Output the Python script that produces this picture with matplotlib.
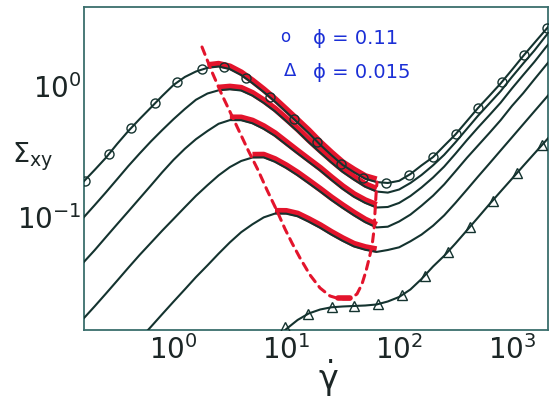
import numpy as np
import matplotlib
matplotlib.use("Agg")
import matplotlib.pyplot as plt
from matplotlib.ticker import NullLocator, FixedLocator
import matplotlib.transforms as mtransforms

# ---------------- data ----------------
# common shear-rate grid
gdot = np.array([0.158, 0.200, 0.251, 0.316, 0.398, 0.501, 0.631, 0.794,
                 1.00, 1.26, 1.58, 2.00, 2.51, 3.16, 3.98, 5.01, 6.31, 7.94,
                 10.0, 12.6, 15.8, 20.0, 25.1, 31.6, 39.8, 50.1, 63.1, 79.4,
                 100, 126, 158, 200, 251, 316, 398, 501, 631, 794,
                 1000, 1259, 1585, 1995, 2512])

sig1 = np.array([0.186, 0.230, 0.284, 0.362, 0.455, 0.561, 0.686, 0.840, 1.018,
                 1.171, 1.289, 1.375, 1.407, 1.344, 1.212, 1.052, 0.900, 0.761,
                 0.634, 0.527, 0.439, 0.357, 0.298, 0.251, 0.221, 0.197, 0.186,
                 0.183, 0.190, 0.214, 0.249, 0.288, 0.351, 0.428, 0.540, 0.681,
                 0.842, 1.045, 1.326, 1.691, 2.131, 2.680, 3.378])
sig2 = np.array([0.0991, 0.1241, 0.1549, 0.1952, 0.2464, 0.3067, 0.3792, 0.4621,
                 0.5593, 0.6685, 0.7855, 0.8769, 0.9275, 0.9438, 0.9242, 0.8452,
                 0.7438, 0.6423, 0.5399, 0.4516, 0.3739, 0.3111, 0.2619, 0.2222,
                 0.1939, 0.1712, 0.1576, 0.1546, 0.1632, 0.1830, 0.2105, 0.2494,
                 0.2997, 0.3731, 0.4710, 0.5942, 0.7362, 0.9130, 1.171, 1.483,
                 1.865, 2.400, 3.014])
sig3 = np.array([0.0452, 0.0564, 0.0707, 0.0888, 0.1113, 0.1397, 0.1754, 0.2207,
                 0.2742, 0.3330, 0.3938, 0.4547, 0.5160, 0.5503, 0.5494, 0.5205,
                 0.4719, 0.4174, 0.3577, 0.3067, 0.2647, 0.2273, 0.1932, 0.1650,
                 0.1437, 0.1291, 0.1191, 0.1202, 0.1290, 0.1457, 0.1691, 0.2014,
                 0.2438, 0.3056, 0.3866, 0.4835, 0.5995, 0.7464, 0.9572, 1.212,
                 1.528, 1.966, 2.486])
sig4 = np.array([0.0169, 0.0211, 0.0263, 0.0330, 0.0415, 0.0519, 0.0642, 0.0794,
                 0.0974, 0.1197, 0.1460, 0.1760, 0.2090, 0.2416, 0.2690, 0.2859,
                 0.2864, 0.2652, 0.2378, 0.2094, 0.1823, 0.1574, 0.1358, 0.1183,
                 0.1038, 0.0921, 0.0840, 0.0851, 0.0932, 0.1052, 0.1229, 0.1465,
                 0.1785, 0.2246, 0.2835, 0.3528, 0.4391, 0.5494, 0.7047, 0.8815,
                 1.126, 1.432, 1.814])
# curve 5 starts at gdot[5:]
sig5 = np.array([0.01187, 0.01475, 0.01839, 0.02289, 0.02839, 0.03516, 0.04322,
                 0.05305, 0.06466, 0.07727, 0.08877, 0.1002, 0.1071, 0.1069,
                 0.1021, 0.0929, 0.0834, 0.0741, 0.0664, 0.0602, 0.0568, 0.0547,
                 0.0566, 0.0593, 0.0659, 0.0741, 0.0866, 0.1038, 0.1291, 0.1624,
                 0.2047, 0.2570, 0.3232, 0.4065, 0.5114, 0.6432, 0.8077, 1.018])
# curve 6 (phi = 0.015) starts at gdot[17:]
sig6 = np.array([0.01171, 0.01419, 0.01662, 0.01862, 0.01997, 0.02075, 0.02104,
                 0.02123, 0.02141, 0.02179, 0.02297, 0.02485, 0.02835, 0.03406,
                 0.04241, 0.05112, 0.06343, 0.07962, 0.1000, 0.1260, 0.1576,
                 0.1969, 0.2464, 0.3072, 0.3824, 0.4794])

# symbols: phi = 0.11 (circles)
phi011_x = [0.164, 0.268, 0.420, 0.686, 1.074, 1.789, 2.804, 4.391, 7.170, 11.70,
            18.72, 30.55, 47.86, 76.55, 122.4, 199.7, 319.4, 500.6, 817.2, 1280, 2047]
phi011_y = [0.1895, 0.304, 0.4794, 0.7425, 1.073, 1.347, 1.394, 1.150, 0.825, 0.5612,
            0.375, 0.2551, 0.1997, 0.183, 0.2105, 0.2884, 0.4315, 0.6805, 1.073, 1.721, 2.761]
# symbols: phi = 0.015 (triangles)
phi0015_x = [9.739, 15.57, 25.42, 39.83, 65.02, 106.1, 169.7, 271.4, 425.1, 679.8, 1110, 1849]
phi0015_y = [0.0147, 0.01846, 0.02087, 0.02123, 0.02199, 0.02574, 0.0359, 0.05465,
             0.0847, 0.1335, 0.2181, 0.3558]

# red (banded) segments: shear-rate range on curves 1..5
red_start = [2.0, 2.5, 3.1, 5.0, 7.9]
red_end = [63.5, 63.5, 63.5, 63.5, 63.5]

# red dashed envelope
env_x = [1.789, 2.194, 2.692, 3.301, 4.576, 5.612, 6.745, 8.274, 9.739, 11.23, 13.23,
         16.23, 19.90, 24.40, 29.93, 36.71, 42.34, 46.90, 50.89, 54.10, 57.51, 59.91,
         61.14, 62.40, 63.69]
env_y = [1.980, 1.278, 0.8542, 0.5913, 0.3261, 0.2297, 0.1618, 0.1121, 0.08177, 0.06398,
         0.0492, 0.03653, 0.0291, 0.02529, 0.02399, 0.02399, 0.0262, 0.03121, 0.03919,
         0.04834, 0.0607, 0.08032, 0.1101, 0.1483, 0.1862]
blob_x = [28.5, 36.5]
blob_y = [0.0245, 0.0245]

xticks = [1, 10, 100, 1000]
yticks = [0.1, 1]

# ---------------- style ----------------
tick_font, tick_size = 'Liberation Sans', 20
plt.rcParams['mathtext.fontset'] = 'custom'
plt.rcParams['mathtext.rm'] = tick_font
plt.rcParams['mathtext.it'] = tick_font + ':italic'
plt.rcParams['mathtext.bf'] = tick_font + ':bold'
plt.rcParams['mathtext.sf'] = tick_font

LINE = '#14332f'
FRAME = '#3a6e6c'
RED = '#e3142c'
BLUE = '#1b2fd6'

W, H = 553, 401
fig = plt.figure(figsize=(W / 100, H / 100), dpi=100)
ax = fig.add_axes([84 / W, 71 / H, 464 / W, 323 / H])
ax.set_xscale('log')
ax.set_yscale('log')
ax.set_xlim(0.1609, 2089)
ax.set_ylim(0.01394, 3.989)

curves = [(gdot, sig1), (gdot, sig2), (gdot, sig3), (gdot, sig4),
          (gdot[5:], sig5), (gdot[17:], sig6)]
for x, y in curves:
    ax.plot(x, y, color=LINE, lw=1.5, zorder=3)

off = mtransforms.offset_copy(ax.transData, fig=fig, x=0, y=2.5, units='dots')
for i in range(5):
    x, y = curves[i]
    m = (x >= red_start[i]) & (x <= red_end[i])
    ax.plot(x[m], y[m], color=RED, lw=4.6, transform=off, zorder=2,
            solid_capstyle='butt', solid_joinstyle='round')

ax.plot(env_x, env_y, color=RED, lw=2.2, ls=(0, (2.6, 2.0)), zorder=4,
        dash_capstyle='round')
ax.plot(blob_x, blob_y, color=RED, lw=4.0, zorder=4, solid_capstyle='round')

ax.plot(phi011_x, phi011_y, ls='none', marker='o', ms=6.5, mfc='none',
        mec=LINE, mew=1.0, zorder=5)
ax.plot(phi0015_x, phi0015_y, ls='none', marker='^', ms=7, mfc='none',
        mec=LINE, mew=1.0, zorder=5)

for s in ax.spines.values():
    s.set_color(FRAME)
    s.set_linewidth(1.3)

ax.xaxis.set_major_locator(FixedLocator(xticks))
ax.yaxis.set_major_locator(FixedLocator(yticks))
ax.xaxis.set_minor_locator(NullLocator())
ax.yaxis.set_minor_locator(NullLocator())
ax.tick_params(which='both', length=0, labelsize=tick_size, labelcolor='#1c2626')
ax.tick_params(axis='x', pad=4)
ax.tick_params(axis='y', pad=1.5)

fig.text(32.5 / W, 1 - 156.5 / H, r'$\Sigma_{\mathrm{xy}}$', fontsize=19.5,
         ha='center', va='center', color='#1c2626', math_fontfamily='dejavusans')
fig.text(328 / W, 1 - 378 / H, r'$\dot{\mathrm{\gamma}}$', fontsize=24,
         ha='center', va='center', color='#1c2626', math_fontfamily='dejavusans')

fig.text(285 / W, 1 - 37 / H, 'o', fontsize=12, color=BLUE, ha='center', va='center',
         family='DejaVu Sans')
fig.text(290 / W, 1 - 71 / H, 'Δ', fontsize=13, color=BLUE, ha='center', va='center',
         family='DejaVu Sans')
fig.text(313 / W, 1 - 38 / H, 'ϕ = 0.11', fontsize=14, color=BLUE, ha='left',
         va='center', family='DejaVu Sans')
fig.text(313 / W, 1 - 73 / H, 'ϕ = 0.015', fontsize=14, color=BLUE, ha='left',
         va='center', family='DejaVu Sans')

fig.savefig('out.png', dpi=100)
